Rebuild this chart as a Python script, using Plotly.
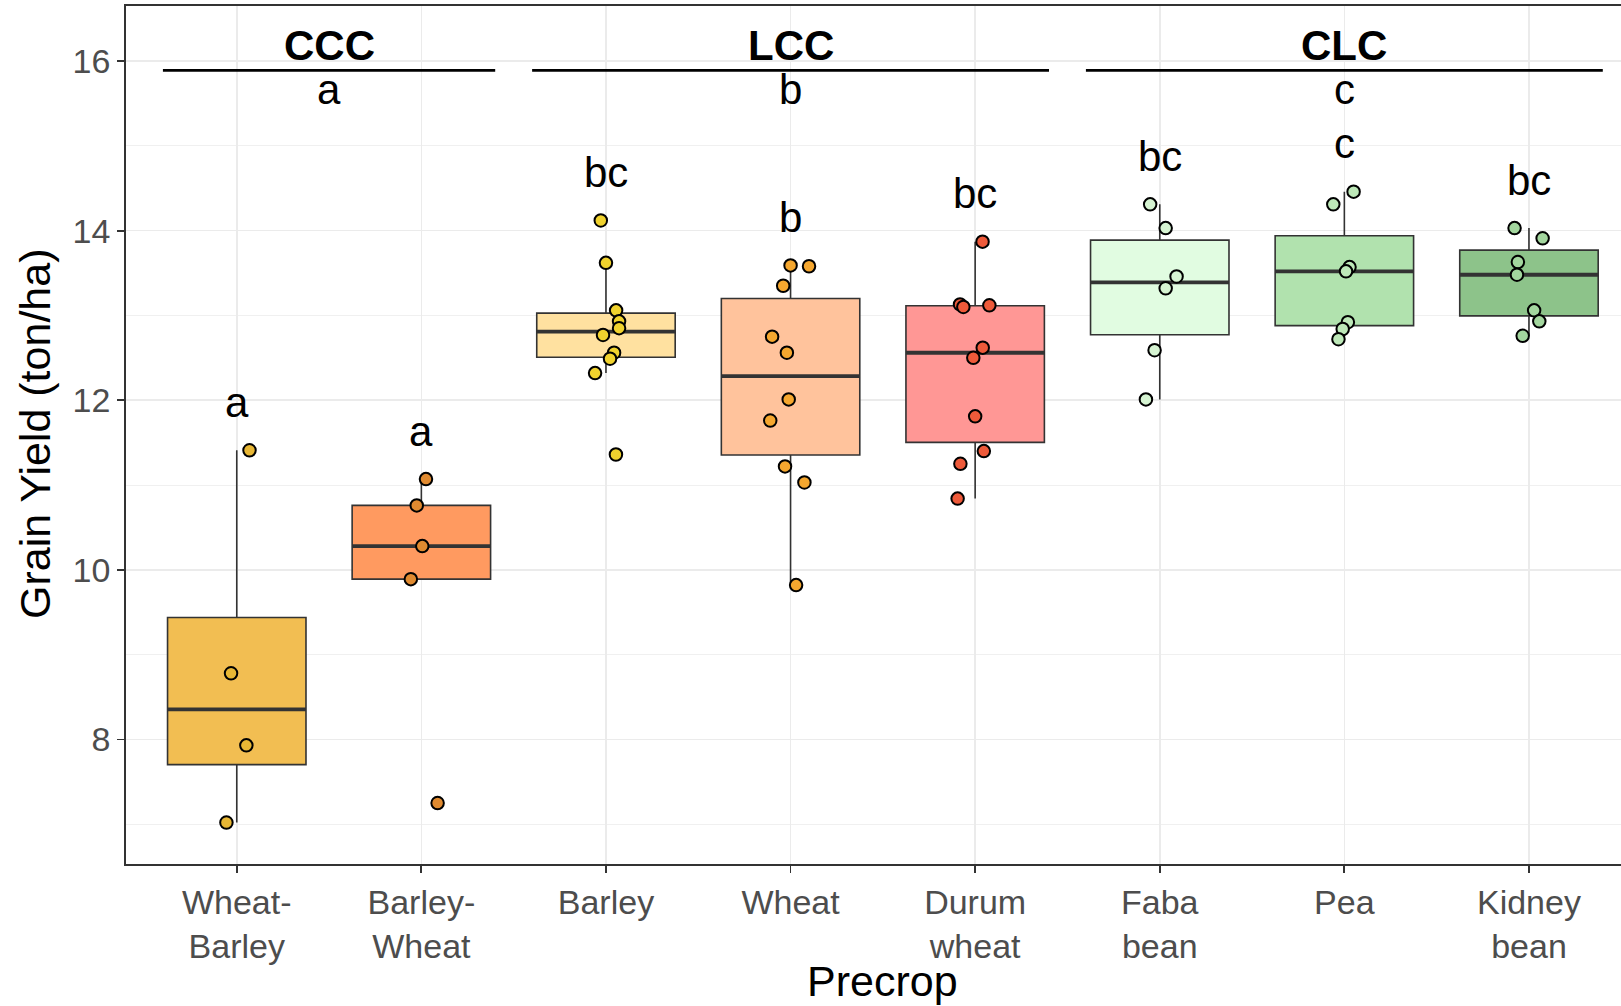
import numpy as np
import plotly.graph_objects as go

# ---------------- data ----------------
categories = ["Wheat-<br>Barley", "Barley-<br>Wheat", "Barley", "Wheat",
              "Durum<br>wheat", "Faba<br>bean", "Pea", "Kidney<br>bean"]

wheat_barley = [11.41, 8.78, 7.93, 7.02]
barley_wheat = [11.07, 10.76, 10.28, 9.89, 7.25]
barley = [14.12, 13.62, 13.06, 12.93, 12.85, 12.77, 12.56, 12.49, 12.32, 11.36]
wheat = [13.59, 13.58, 13.35, 12.75, 12.56, 12.01, 11.76, 11.22, 11.03, 9.82]
durum_wheat = [13.87, 13.13, 13.10, 13.12, 12.62, 12.50, 11.81, 11.40, 11.25, 10.84]
faba_bean = [14.31, 14.03, 13.46, 13.32, 12.59, 12.01]
pea = [14.46, 14.31, 13.57, 13.52, 12.92, 12.84, 12.72]
kidney_bean = [14.03, 13.91, 13.63, 13.48, 13.06, 12.93, 12.76]

# horizontal jitter of each point (category units)
jit_wheat_barley = [0.069, -0.031, 0.052, -0.056]
jit_barley_wheat = [0.025, -0.025, 0.005, -0.057, 0.088]
jit_barley = [-0.028, 0.0, 0.055, 0.071, 0.071, -0.016, 0.044, 0.022, -0.059, 0.054]
jit_wheat = [0.0, 0.10, -0.04, -0.10, -0.02, -0.01, -0.11, -0.03, 0.075, 0.03]
jit_durum_wheat = [0.04, -0.082, -0.064, 0.077, 0.041, -0.01, 0.0, 0.047, -0.08, -0.095]
jit_faba_bean = [-0.052, 0.032, 0.091, 0.032, -0.028, -0.075]
jit_pea = [0.05, -0.06, 0.028, 0.009, 0.019, -0.009, -0.032]
jit_kidney_bean = [-0.078, 0.074, -0.06, -0.065, 0.028, 0.056, -0.034]

box_letters = ["a", "a", "bc", "b", "bc", "bc", "c", "bc"]

rotation_names = ["CCC", "LCC", "CLC"]
rotation_letters = ["a", "b", "c"]
rotation_members = [[0, 1], [2, 3, 4], [5, 6, 7]]

# ---------------- styles ----------------
box_fills = ["#F2BE52", "#FF9A60", "#FFE1A0", "#FFC39C",
             "#FF9795", "#E1FCE1", "#B1E2AE", "#8DC38A"]
point_fills = ["#E8B735", "#E08A30", "#F0D22E", "#F5A72F",
               "#EE5A3A", "#D6F4D2", "#BDE8B8", "#A3D69E"]

values = [wheat_barley, barley_wheat, barley, wheat, durum_wheat,
          faba_bean, pea, kidney_bean]
jitters = [jit_wheat_barley, jit_barley_wheat, jit_barley, jit_wheat,
           jit_durum_wheat, jit_faba_bean, jit_pea, jit_kidney_bean]

FONT = "Liberation Sans, Arial, sans-serif"
DARK = "#333333"
BOX_W = 0.75
TICK_SIZE = 34
TITLE_SIZE = 43


def box_stats(v):
    v = np.asarray(v, dtype=float)
    q1, med, q3 = np.percentile(v, [25, 50, 75])
    iqr = q3 - q1
    lo = v[v >= q1 - 1.5 * iqr].min()
    hi = v[v <= q3 + 1.5 * iqr].max()
    return q1, med, q3, lo, hi


fig = go.Figure()

# boxes
for i, v in enumerate(values):
    q1, med, q3, lo, hi = box_stats(v)
    fig.add_trace(go.Box(
        x=[i], q1=[q1], median=[med], q3=[q3], lowerfence=[lo], upperfence=[hi],
        width=BOX_W, fillcolor=box_fills[i], line=dict(color=DARK, width=1.6),
        whiskerwidth=0, boxpoints=False, hoverinfo="skip"))
    # thicker median line like ggplot
    fig.add_trace(go.Scatter(
        x=[i - BOX_W / 2, i + BOX_W / 2], y=[med, med], mode="lines",
        line=dict(color=DARK, width=3.8), hoverinfo="skip"))

# rotation brackets
BRACKET_Y = 15.89
for members in rotation_members:
    fig.add_trace(go.Scatter(
        x=[members[0] - 0.4, members[-1] + 0.4], y=[BRACKET_Y, BRACKET_Y],
        mode="lines", line=dict(color="black", width=2.6), hoverinfo="skip"))

# jittered points
for i, (v, j) in enumerate(zip(values, jitters)):
    fig.add_trace(go.Scatter(
        x=i + np.asarray(j), y=v, mode="markers",
        marker=dict(size=12.5, color=point_fills[i],
                    line=dict(color="black", width=2)),
        hoverinfo="skip"))

annotations = []
# letters above each box
LETTER_OFFSET = 0.567
for i, v in enumerate(values):
    annotations.append(dict(
        x=i, y=max(v) + LETTER_OFFSET, xref="x", yref="y", text=box_letters[i],
        showarrow=False, xanchor="center", yanchor="middle",
        font=dict(family=FONT, size=42, color="black")))

# rotation names and letters
for name, letter, members in zip(rotation_names, rotation_letters, rotation_members):
    cx = (members[0] + members[-1]) / 2
    annotations.append(dict(
        x=cx, y=16.18, xref="x", yref="y", text="<b>%s</b>" % name,
        showarrow=False, xanchor="center", yanchor="middle",
        font=dict(family=FONT, size=42, color="black")))
    annotations.append(dict(
        x=cx, y=15.67, xref="x", yref="y", text=letter,
        showarrow=False, xanchor="center", yanchor="middle",
        font=dict(family=FONT, size=42, color="black")))

# axis titles (the reference panel runs past the right edge of the image)
annotations.append(dict(
    x=882, y=981, xref="paper", yref="paper", text="Precrop", showarrow=False,
    xanchor="center", yanchor="middle",
    font=dict(family=FONT, size=TITLE_SIZE, color="black")))
annotations.append(dict(
    x=35, y=434, xref="paper", yref="paper", text="Grain Yield (ton/ha)",
    showarrow=False, textangle=-90, xanchor="center", yanchor="middle",
    font=dict(family=FONT, size=TITLE_SIZE, color="black")))

W, H = 1621, 1006
L, R, T, B = 126, 0, 6, 142
pw, ph = W - L - R, H - T - B
for a in annotations[-2:]:
    a["x"] = (a["x"] - L) / pw
    a["y"] = (H - B - a["y"]) / ph

fig.update_layout(
    width=W, height=H,
    margin=dict(l=L, r=R, t=T, b=B, autoexpand=False),
    plot_bgcolor="white", paper_bgcolor="white",
    showlegend=False,
    annotations=annotations,
    xaxis=dict(
        range=[-0.6, -0.6 + pw / 184.6],
        tickmode="array", tickvals=list(range(len(categories))), ticktext=categories,
        showgrid=True, gridcolor="#EBEBEB", gridwidth=1.6,
        ticks="outside", ticklen=7, tickwidth=1.8, tickcolor=DARK,
        showline=True, linecolor=DARK, linewidth=1.8, mirror=True,
        zeroline=False,
        tickfont=dict(family=FONT, size=TICK_SIZE, color="#4D4D4D")),
    yaxis=dict(
        range=[6.531, 16.649], tick0=0, dtick=2,
        showgrid=True, gridcolor="#EBEBEB", gridwidth=1.6,
        minor=dict(dtick=1, tick0=0, showgrid=True, gridcolor="#F0F0F0",
                   gridwidth=1.0, ticks=""),
        ticks="outside", ticklen=7, tickwidth=1.8, tickcolor=DARK,
        showline=True, linecolor=DARK, linewidth=1.8,
        zeroline=False,
        tickfont=dict(family=FONT, size=TICK_SIZE, color="#4D4D4D")),
)

fig.write_html("out.html",
               config={"displayModeBar": False, "staticPlot": True},
               post_script="document.body.style.margin='0px';"
                           "document.body.style.overflow='hidden';")
